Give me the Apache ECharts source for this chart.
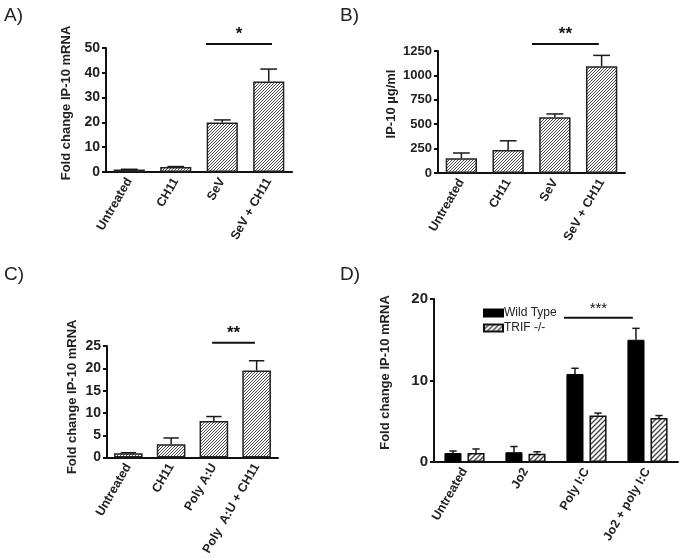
<!DOCTYPE html>
<html><head><meta charset="utf-8">
<script src="https://cdn.jsdelivr.net/npm/echarts@6/dist/echarts.min.js"></script>
<style>html,body{margin:0;padding:0;background:#fff}#c{width:680px;height:558px}</style>
</head><body><div id="c"></div>
<script>
// ---------- data ----------
const catsA = ['Untreated', 'CH11', 'SeV', 'SeV + CH11'];
const meanA = [1, 2, 20, 36.5];
const errA  = [0.1, 0.2, 1, 5];
const catsB = ['Untreated', 'CH11', 'SeV', 'SeV + CH11'];
const meanB = [150, 235, 570, 1095];
const errB  = [55, 95, 35, 110];
const catsC = ['Untreated', 'CH11', 'Poly A:U', 'Poly  A:U + CH11'];
const meanC = [1, 3, 8.2, 19.5];
const errC  = [0.1, 1.4, 1, 2.2];
const catsD = ['Untreated', 'Jo2', 'Poly I:C', 'Jo2 + poly I:C'];
const wtD      = [1.1, 1.2, 10.8, 15.0];
const wtErrD   = [0.25, 0.7, 0.7, 1.4];
const trifD    = [1.1, 1.0, 5.7, 5.4];
const trifErrD = [0.5, 0.25, 0.3, 0.3];
const seriesNamesD = ['Wild Type', 'TRIF -/-'];
// y axis ranges [min, max, interval]
const yAxisA = [0, 50, 10];
const yAxisB = [0, 1250, 250];
const yAxisC = [0, 25, 5];
const yAxisD = [0, 20, 10];
const yTitles = ['Fold change IP-10 mRNA', 'IP-10 µg/ml', 'Fold change IP-10 mRNA', 'Fold change IP-10 mRNA'];
// significance: [from (category index), to (category index), y value, label]
const sigA = [1.65, 3.07, 51.6, '*'];
const sigB = [1.51, 2.94, 1322, '**'];
const sigC = [1.96, 2.96, 25.7, '**'];
const sigD = [1.63, 2.76, 17.7, '***'];
const panelLabels = ['A)', 'B)', 'C)', 'D)'];

// ---------- styling helpers ----------
const FONT = '"Liberation Sans", Arial, sans-serif';
function hatch(s, lw, col) {
  const c = document.createElement('canvas');
  c.width = s; c.height = s;
  const g = c.getContext('2d');
  g.fillStyle = '#fff'; g.fillRect(0, 0, s, s);
  g.strokeStyle = col; g.lineWidth = lw;
  g.beginPath();
  g.moveTo(0, s); g.lineTo(s, 0);
  g.moveTo(-1, 1); g.lineTo(1, -1);
  g.moveTo(s - 1, s + 1); g.lineTo(s + 1, s - 1);
  g.stroke();
  return { image: c, repeat: 'repeat' };
}
const hatchSmall = hatch(3, 1, '#4a4a4a');
const hatchLarge = hatch(5, 1.4, '#444');

function errRender(offsetFrac, capFrac) {
  return function (params, api) {
    const i = api.value(0), m = api.value(1), e = api.value(2);
    const band = api.size([1, 0])[0];
    const b = api.coord([i, m]);
    const t = api.coord([i, m + e]);
    const x = b[0] + offsetFrac * band;
    const cw = capFrac * band / 2;
    return { type: 'group', children: [
      { type: 'line', shape: { x1: x, y1: b[1], x2: x, y2: t[1] }, style: { stroke: '#1a1a1a', lineWidth: 1.5 } },
      { type: 'line', shape: { x1: x - cw, y1: t[1], x2: x + cw, y2: t[1] }, style: { stroke: '#1a1a1a', lineWidth: 1.5 } }
    ]};
  };
}
function sigRender(fontSize, bold) {
  return function (params, api) {
    const y = api.value(1), f0 = api.value(2), f1 = api.value(3);
    const band = api.size([1, 0])[0];
    const p = api.coord([0, y]);
    const x1 = p[0] + f0 * band, x2 = p[0] + f1 * band;
    return { type: 'group', children: [
      { type: 'line', shape: { x1: x1, y1: p[1], x2: x2, y2: p[1] }, style: { stroke: '#111', lineWidth: 2 } },
      { type: 'text', style: { text: api.value(4), x: (x1 + x2) / 2, y: p[1] - 1,
          textAlign: 'center', textVerticalAlign: 'bottom', font: (bold ? 'bold ' : '') + fontSize + 'px ' + FONT, fill: '#111' } }
    ]};
  };
}

const grids = [
  { left: 106, top: 48, width: 186, height: 124 },
  { left: 438, top: 51, width: 187, height: 122 },
  { left: 107, top: 346, width: 171, height: 113 },
  { left: 434, top: 299, width: 244, height: 163 }
];
const cats = [catsA, catsB, catsC, catsD];
const yr = [yAxisA, yAxisB, yAxisC, yAxisD];
const yFont = [14, 13, 14, 15];
const nameGaps = [33, 40, 28, 42];
const nameShift = [14, 16, 10, 16];

const xAxes = cats.map((c, k) => ({
  type: 'category', gridIndex: k, data: c,
  axisLine: { lineStyle: { color: '#111', width: 2 } },
  axisTick: { show: false },
  axisLabel: { rotate: 60, interval: 0, margin: 7, color: '#222', fontWeight: 'bold', fontSize: 12.5, fontFamily: FONT }
}));
const yAxes = yr.map((r, k) => ({
  type: 'value', gridIndex: k, min: r[0], max: r[1], interval: r[2],
  name: yTitles[k], nameLocation: 'middle', nameGap: nameGaps[k], nameRotate: 90,
  nameTextStyle: { color: '#222', fontWeight: 'bold', fontSize: 13, fontFamily: FONT, padding: [0, 0, 0, nameShift[k]] },
  axisLine: { show: true, lineStyle: { color: '#111', width: 2 } },
  axisTick: { show: true, length: 4, lineStyle: { color: '#111', width: 2 } },
  axisLabel: { margin: 6, color: '#222', fontWeight: 'bold', fontSize: yFont[k], fontFamily: FONT,
    formatter: v => String(v) },
  splitLine: { show: false }
}));

const barStyle = { color: hatchSmall, borderColor: '#222', borderWidth: 1.5 };
const means = [meanA, meanB, meanC];
const errs = [errA, errB, errC];
const sigs = [sigA, sigB, sigC, sigD];
const series = [];
means.forEach((m, k) => {
  series.push({ type: 'bar', xAxisIndex: k, yAxisIndex: k, data: m, barWidth: '67%', itemStyle: barStyle, silent: true });
  series.push({ type: 'custom', xAxisIndex: k, yAxisIndex: k, renderItem: errRender(0, 0.36),
    data: m.map((v, i) => [i, v, errs[k][i]]), z: 3 });
});
series.push({ name: seriesNamesD[0], type: 'bar', xAxisIndex: 3, yAxisIndex: 3, data: wtD, barWidth: '28%', barGap: '35%',
  itemStyle: { color: '#000', borderColor: '#000', borderWidth: 1 } });
series.push({ name: seriesNamesD[1], type: 'bar', xAxisIndex: 3, yAxisIndex: 3, data: trifD, barWidth: '28%', barGap: '35%',
  itemStyle: { color: hatchLarge, borderColor: '#111', borderWidth: 1.5 } });
const offD = (0.28 + 0.28 * 0.35) / 2;
series.push({ type: 'custom', xAxisIndex: 3, yAxisIndex: 3, renderItem: errRender(-offD, 0.12),
  data: wtD.map((v, i) => [i, v, wtErrD[i]]), z: 3 });
series.push({ type: 'custom', xAxisIndex: 3, yAxisIndex: 3, renderItem: errRender(offD, 0.12),
  data: trifD.map((v, i) => [i, v, trifErrD[i]]), z: 3 });
const sigFonts = [[17, true], [17, true], [17, true], [15, false]];
sigs.forEach((s, k) => {
  series.push({ type: 'custom', xAxisIndex: k, yAxisIndex: k, renderItem: sigRender(sigFonts[k][0], sigFonts[k][1]),
    encode: { x: 0, y: 1 }, dimensions: ['c', 'y', 'f0', 'f1', { name: 'lab', type: 'ordinal' }],
    data: [[0, s[2], s[0], s[1], s[3]]], z: 4, clip: false });
});

const labelPos = [[4, 6], [340, 6], [4, 265], [340, 265]];
const chart = echarts.init(document.getElementById('c'), null, { renderer: 'canvas' });
chart.setOption({
  animation: false,
  backgroundColor: '#fff',
  grid: grids,
  xAxis: xAxes,
  yAxis: yAxes,
  legend: {
    data: seriesNamesD, orient: 'vertical', left: 483, top: 307, padding: 0, itemWidth: 19, itemHeight: 7, itemGap: 3,
    icon: 'rect', textStyle: { fontSize: 12, color: '#222', fontFamily: FONT, padding: [0, 0, 0, -4] }
  },
  graphic: panelLabels.map((t, k) => ({
    type: 'text', left: labelPos[k][0], top: labelPos[k][1],
    style: { text: t, font: '19px ' + FONT, fill: '#222' }
  })),
  series: series
});
</script></body></html>
